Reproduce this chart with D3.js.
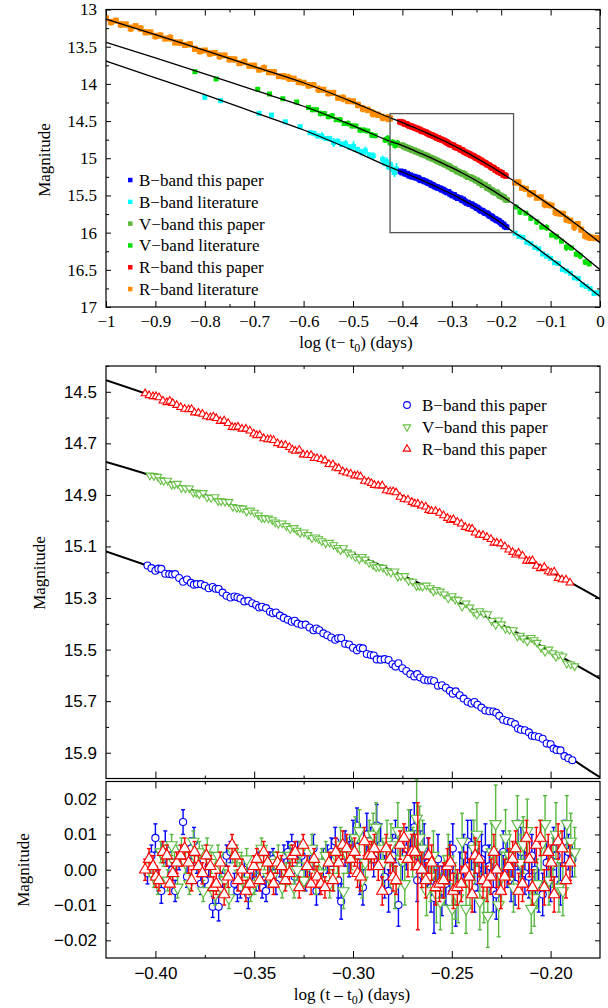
<!DOCTYPE html>
<html><head><meta charset="utf-8">
<script src="https://cdn.jsdelivr.net/npm/d3@7"></script>
<style>
html,body{margin:0;padding:0;background:#fff;}
svg{display:block;}
</style></head><body>
<svg id="chart" width="608" height="1008"></svg>
<script>
// ---------------- data ----------------
// fitted light curves (log(t-t0) vs magnitude)
const fitX = [-1,-0.9,-0.8,-0.7,-0.6,-0.5,-0.425,-0.4,-0.375,-0.35,-0.325,-0.3,-0.275,-0.25,-0.225,-0.2,-0.175,-0.15,-0.1,-0.05,0];
const fitR = [13.128,13.338,13.551,13.767,13.985,14.245,14.455,14.520,14.590,14.662,14.738,14.818,14.905,14.998,15.095,15.197,15.303,15.412,15.637,15.878,16.135];
const fitV = [13.441,13.652,13.866,14.085,14.301,14.560,14.772,14.830,14.900,14.972,15.048,15.127,15.212,15.303,15.402,15.506,15.613,15.728,15.973,16.228,16.498];
const fitB = [13.692,13.918,14.146,14.382,14.620,14.897,15.119,15.185,15.255,15.327,15.403,15.483,15.570,15.663,15.762,15.870,15.995,16.100,16.345,16.597,16.860];

// this paper, first set of epochs (log days) per band
const epochsB = [-0.404,-0.400,-0.397,-0.393,-0.390,-0.386,-0.382,-0.379,-0.375,-0.371,
-0.368,-0.364,-0.360,-0.357,-0.353,-0.349,-0.346,-0.342,-0.339,-0.335,
-0.331,-0.328,-0.324,-0.320,-0.317,-0.313,-0.309,-0.306,-0.302,-0.298,
-0.295,-0.291,-0.288,-0.284,-0.280,-0.277,-0.273,-0.269,-0.266,-0.262,
-0.259,-0.255,-0.251,-0.248,-0.244,-0.240,-0.237,-0.233,-0.229,-0.226,
-0.222,-0.218,-0.215,-0.211,-0.208,-0.204,-0.200,-0.197,-0.193,-0.189];
const epochsV = [-0.4028,-0.3988,-0.3958,-0.3918,-0.3888,-0.3848,-0.3808,-0.3778,-0.3738,-0.3698,
-0.3668,-0.3628,-0.3588,-0.3558,-0.3518,-0.3478,-0.3448,-0.3408,-0.3378,-0.3338,
-0.3298,-0.3268,-0.3228,-0.3188,-0.3158,-0.3118,-0.3078,-0.3048,-0.3008,-0.2968,
-0.2938,-0.2898,-0.2868,-0.2828,-0.2788,-0.2758,-0.2718,-0.2678,-0.2648,-0.2608,
-0.2578,-0.2538,-0.2498,-0.2468,-0.2428,-0.2388,-0.2358,-0.2318,-0.2278,-0.2248,
-0.2208,-0.2168,-0.2138,-0.2098,-0.2068,-0.2028,-0.1988,-0.1958,-0.1918,-0.1878];
const epochsR = [-0.4052,-0.4012,-0.3982,-0.3942,-0.3912,-0.3872,-0.3832,-0.3802,-0.3762,-0.3722,
-0.3692,-0.3652,-0.3612,-0.3582,-0.3542,-0.3502,-0.3472,-0.3432,-0.3402,-0.3362,
-0.3322,-0.3292,-0.3252,-0.3212,-0.3182,-0.3142,-0.3102,-0.3072,-0.3032,-0.2992,
-0.2962,-0.2922,-0.2892,-0.2852,-0.2812,-0.2782,-0.2742,-0.2702,-0.2672,-0.2632,
-0.2602,-0.2562,-0.2522,-0.2492,-0.2452,-0.2412,-0.2382,-0.2342,-0.2302,-0.2272,
-0.2232,-0.2192,-0.2162,-0.2122,-0.2092,-0.2052,-0.2012,-0.1982,-0.1942,-0.1902];
const magB = [15.174,15.194,15.187,15.207,15.207,15.237,15.241,15.246,15.252,15.257,
15.265,15.291,15.294,15.302,15.311,15.327,15.334,15.353,15.356,15.377,
15.392,15.399,15.403,15.425,15.425,15.444,15.462,15.455,15.480,15.503,
15.495,15.521,15.538,15.537,15.557,15.553,15.583,15.604,15.608,15.620,
15.622,15.638,15.660,15.662,15.690,15.709,15.714,15.736,15.740,15.757,
15.777,15.789,15.811,15.821,15.836,15.846,15.867,15.889,15.913,15.929];
const magV = [14.824,14.829,14.845,14.860,14.856,14.874,14.891,14.897,14.909,14.908,
14.924,14.927,14.950,14.952,14.960,14.979,14.990,14.997,15.012,15.020,
15.028,15.047,15.055,15.064,15.079,15.085,15.105,15.106,15.130,15.149,
15.150,15.172,15.179,15.195,15.196,15.214,15.233,15.253,15.255,15.261,
15.268,15.285,15.292,15.307,15.320,15.354,15.350,15.362,15.404,15.401,
15.423,15.449,15.456,15.454,15.473,15.508,15.513,15.519,15.554,15.564];
const magR = [14.507,14.518,14.522,14.541,14.544,14.560,14.569,14.581,14.586,14.600,
14.603,14.612,14.637,14.636,14.644,14.663,14.668,14.685,14.688,14.706,
14.715,14.730,14.744,14.746,14.758,14.767,14.782,14.797,14.814,14.826,
14.829,14.849,14.862,14.864,14.887,14.891,14.917,14.928,14.935,14.946,
14.963,14.970,14.990,14.995,15.012,15.030,15.047,15.056,15.072,15.086,
15.100,15.122,15.125,15.156,15.154,15.185,15.197,15.198,15.228,15.241];
const resB = [-0.001,0.009,-0.006,0.002,-0.006,0.0135,0.006,0.002,-0.003,-0.0105,
-0.0105,0.004,-0.004,-0.005,-0.007,-0.003,-0.005,0.002,-0.004,0.004,
0.007,0.005,-0.003,0.006,-0.004,0.003,0.008,-0.009,0.003,0.0125,
-0.005,0.007,0.0125,-0.002,0.004,-0.010,0.006,0.012,0.005,0.002,
-0.008,-0.006,0.001,-0.009,0.004,0.007,0.000,0.006,-0.006,-0.001,
0.002,-0.004,0.005,-0.002,0.000,-0.007,-0.003,0.004,0.008,0.003];
const errB = [0.003,0.004,0.0035,0.003,0.003,0.0035,0.003,0.003,0.003,0.003,
0.004,0.003,0.003,0.003,0.004,0.003,0.003,0.003,0.003,0.003,
0.003,0.003,0.003,0.004,0.003,0.004,0.004,0.005,0.005,0.005,
0.005,0.005,0.006,0.006,0.006,0.006,0.006,0.007,0.006,0.007,
0.010,0.007,0.007,0.007,0.006,0.007,0.006,0.007,0.006,0.006,
0.007,0.006,0.007,0.006,0.006,0.006,0.006,0.006,0.006,0.005];
const resV = [0.001,-0.004,0.004,0.007,-0.005,0.002,0.008,0.005,0.006,-0.007,
0.001,-0.008,0.004,-0.003,-0.006,0.001,0.003,-0.002,0.004,-0.001,
-0.005,0.005,0.001,-0.003,0.002,-0.004,0.003,-0.006,0.005,0.011,
0.002,0.010,0.006,0.008,-0.005,0.003,0.010,0.0145,0.006,-0.002,
-0.007,-0.003,-0.011,-0.008,-0.011,0.006,-0.009,-0.013,0.013,-0.002,
0.004,0.013,0.007,-0.011,-0.004,0.013,0.002,-0.005,0.013,0.005];
const errV = [0.003,0.003,0.003,0.003,0.003,0.003,0.003,0.003,0.003,0.003,
0.003,0.003,0.003,0.003,0.003,0.003,0.003,0.003,0.003,0.003,
0.003,0.003,0.003,0.004,0.004,0.004,0.004,0.005,0.005,0.006,
0.005,0.006,0.006,0.006,0.006,0.006,0.007,0.011,0.008,0.007,
0.008,0.007,0.007,0.007,0.007,0.008,0.008,0.009,0.011,0.007,
0.007,0.008,0.008,0.007,0.007,0.008,0.007,0.007,0.008,0.007];
const resR = [0.000,0.001,-0.003,0.004,-0.001,0.004,0.002,0.005,-0.001,0.001,
-0.004,-0.007,0.007,-0.003,-0.006,0.001,-0.003,0.002,-0.004,0.001,
-0.001,0.005,0.007,-0.004,-0.002,-0.005,-0.003,0.002,0.006,0.005,
-0.002,0.004,0.006,-0.006,0.003,-0.003,0.009,0.005,0.001,-0.003,
0.002,-0.004,0.001,-0.006,-0.004,-0.002,0.004,-0.003,-0.002,0.000,
-0.002,0.003,-0.006,0.009,-0.005,0.009,0.005,-0.007,0.006,0.002];
const errR = [0.003,0.003,0.003,0.003,0.003,0.003,0.003,0.003,0.003,0.003,
0.003,0.003,0.003,0.003,0.003,0.003,0.003,0.003,0.003,0.003,
0.003,0.003,0.003,0.003,0.003,0.003,0.003,0.004,0.004,0.004,
0.004,0.004,0.004,0.004,0.004,0.004,0.004,0.005,0.018,0.005,
0.005,0.005,0.005,0.005,0.005,0.005,0.005,0.005,0.005,0.005,
0.005,0.005,0.005,0.005,0.005,0.005,0.005,0.005,0.005,0.005];

// this paper, second (interleaved) set of epochs per band
const epochsB2 = [-0.402,-0.3985,-0.395,-0.3915,-0.388,-0.384,-0.3805,-0.377,-0.373,-0.3695,
-0.366,-0.362,-0.3585,-0.355,-0.351,-0.3475,-0.344,-0.3405,-0.337,-0.333,
-0.3295,-0.326,-0.322,-0.3185,-0.315,-0.311,-0.3075,-0.304,-0.300,-0.2965,
-0.293,-0.2895,-0.286,-0.282,-0.2785,-0.275,-0.271,-0.2675,-0.264,-0.2605,
-0.257,-0.253,-0.2495,-0.246,-0.242,-0.2385,-0.235,-0.231,-0.2275,-0.224,
-0.220,-0.2165,-0.213,-0.2095,-0.206,-0.202,-0.1985,-0.195,-0.191];
const epochsV2 = [-0.4008,-0.3973,-0.3938,-0.3903,-0.3868,-0.3828,-0.3793,-0.3758,-0.3718,-0.3683,
-0.3648,-0.3608,-0.3573,-0.3538,-0.3498,-0.3463,-0.3428,-0.3393,-0.3358,-0.3318,
-0.3283,-0.3248,-0.3208,-0.3173,-0.3138,-0.3098,-0.3063,-0.3028,-0.2988,-0.2953,
-0.2918,-0.2883,-0.2848,-0.2808,-0.2773,-0.2738,-0.2698,-0.2663,-0.2628,-0.2593,
-0.2558,-0.2518,-0.2483,-0.2448,-0.2408,-0.2373,-0.2338,-0.2298,-0.2263,-0.2228,
-0.2188,-0.2153,-0.2118,-0.2083,-0.2048,-0.2008,-0.1973,-0.1938,-0.1898];
const epochsR2 = [-0.4032,-0.3997,-0.3962,-0.3927,-0.3892,-0.3852,-0.3817,-0.3782,-0.3742,-0.3707,
-0.3672,-0.3632,-0.3597,-0.3562,-0.3522,-0.3487,-0.3452,-0.3417,-0.3382,-0.3342,
-0.3307,-0.3272,-0.3232,-0.3197,-0.3162,-0.3122,-0.3087,-0.3052,-0.3012,-0.2977,
-0.2942,-0.2907,-0.2872,-0.2832,-0.2797,-0.2762,-0.2722,-0.2687,-0.2652,-0.2617,
-0.2582,-0.2542,-0.2507,-0.2472,-0.2432,-0.2397,-0.2362,-0.2322,-0.2287,-0.2252,
-0.2212,-0.2177,-0.2142,-0.2107,-0.2072,-0.2032,-0.1997,-0.1962,-0.1922];
const magB2 = [15.184,15.186,15.206,15.209,15.222,15.228,15.248,15.246,15.262,15.264,
15.279,15.298,15.297,15.313,15.320,15.337,15.339,15.359,15.368,15.384,
15.388,15.404,15.414,15.418,15.437,15.453,15.456,15.477,15.493,15.493,
15.517,15.523,15.539,15.540,15.566,15.572,15.595,15.595,15.617,15.619,
15.640,15.648,15.671,15.677,15.702,15.703,15.725,15.739,15.745,15.772,
15.781,15.806,15.813,15.834,15.839,15.864,15.884,15.891,15.921];
const magV2 = [14.826,14.842,14.844,14.859,14.873,14.874,14.891,14.892,14.911,14.923,
14.926,14.946,14.950,14.964,14.968,14.989,14.991,15.006,15.010,15.031,
15.038,15.045,15.067,15.071,15.087,15.094,15.114,15.123,15.141,15.140,
15.163,15.180,15.182,15.201,15.217,15.214,15.236,15.253,15.251,15.274,
15.274,15.301,15.305,15.333,15.336,15.364,15.360,15.388,15.386,15.419,
15.424,15.445,15.468,15.463,15.493,15.499,15.527,15.526,15.557];
const magR2 = [14.514,14.518,14.535,14.536,14.552,14.567,14.568,14.582,14.596,14.597,
14.614,14.622,14.638,14.644,14.651,14.669,14.681,14.685,14.700,14.707,
14.725,14.726,14.745,14.758,14.762,14.781,14.795,14.809,14.818,14.825,
14.846,14.855,14.864,14.883,14.887,14.908,14.919,14.934,14.942,14.959,
14.963,14.980,14.998,15.005,15.025,15.032,15.055,15.064,15.086,15.089,
15.113,15.132,15.136,15.157,15.176,15.180,15.202,15.223,15.229];
const resB2 = [0.004,-0.003,0.007,0.000,0.003,-0.002,0.008,-0.004,0.001,-0.007,
-0.002,0.005,-0.006,0.000,-0.004,0.002,-0.006,0.003,0.001,0.005,
-0.002,0.004,0.001,-0.006,0.002,0.005,-0.003,0.006,0.009,-0.002,
0.010,0.003,0.007,-0.006,0.008,0.002,0.010,-0.003,0.006,-0.005,
0.003,-0.004,0.006,-0.002,0.008,-0.005,0.003,0.001,-0.007,0.005,
-0.003,0.007,-0.001,0.004,-0.006,0.002,0.006,-0.004,0.005];
const errB2 = [0.003,0.003,0.004,0.003,0.003,0.003,0.004,0.003,0.003,0.004,
0.003,0.003,0.003,0.003,0.003,0.003,0.003,0.003,0.003,0.003,
0.003,0.004,0.003,0.004,0.004,0.004,0.005,0.005,0.005,0.005,
0.006,0.005,0.006,0.006,0.006,0.006,0.007,0.006,0.007,0.007,
0.007,0.006,0.007,0.007,0.006,0.007,0.007,0.006,0.007,0.006,
0.006,0.007,0.006,0.006,0.006,0.006,0.006,0.006,0.005];
const resV2 = [-0.002,0.005,-0.003,0.002,0.006,-0.004,0.003,-0.006,0.002,0.004,
-0.003,0.005,-0.001,0.003,-0.004,0.006,-0.002,0.002,-0.005,0.004,
0.000,-0.003,0.006,-0.001,0.004,-0.002,0.007,0.004,0.009,-0.003,
0.008,0.012,0.002,0.007,0.011,-0.004,0.005,0.009,-0.006,0.004,
-0.009,0.003,-0.006,0.008,-0.004,0.010,-0.007,0.005,-0.010,0.009,
-0.005,0.002,0.011,-0.008,0.007,-0.003,0.010,-0.006,0.008];
const errV2 = [0.003,0.003,0.003,0.003,0.003,0.003,0.003,0.003,0.003,0.003,
0.003,0.003,0.003,0.003,0.003,0.003,0.003,0.003,0.003,0.003,
0.003,0.003,0.004,0.004,0.004,0.004,0.005,0.005,0.006,0.005,
0.006,0.007,0.006,0.006,0.008,0.006,0.007,0.009,0.007,0.007,
0.008,0.007,0.008,0.008,0.007,0.009,0.008,0.008,0.009,0.008,
0.007,0.008,0.009,0.008,0.007,0.007,0.009,0.007,0.008];
const resR2 = [0.003,-0.002,0.005,-0.004,0.002,0.006,-0.003,0.001,0.004,-0.005,
0.002,-0.002,0.004,0.000,-0.004,0.003,0.005,-0.002,0.002,-0.003,
0.004,-0.005,0.001,0.003,-0.004,0.002,0.005,0.007,0.003,-0.001,
0.008,0.004,0.001,0.006,-0.002,0.007,0.003,0.005,0.000,0.004,
-0.005,-0.003,0.002,-0.005,0.000,-0.007,0.003,-0.004,0.005,-0.006,
0.001,0.006,-0.004,0.003,0.007,-0.005,0.002,0.008,-0.003];
const errR2 = [0.003,0.003,0.003,0.003,0.003,0.003,0.003,0.003,0.003,0.003,
0.003,0.003,0.003,0.003,0.003,0.003,0.003,0.003,0.003,0.003,
0.003,0.003,0.003,0.003,0.003,0.003,0.004,0.004,0.004,0.004,
0.004,0.004,0.004,0.004,0.004,0.004,0.005,0.005,0.005,0.005,
0.005,0.005,0.005,0.005,0.005,0.005,0.005,0.005,0.005,0.005,
0.005,0.005,0.005,0.005,0.005,0.005,0.005,0.005,0.005];

// literature photometry
const litRX = [-1.00,-0.99,-0.98,-0.97,-0.96,-0.95,-0.94,-0.93,-0.92,-0.91,
-0.90,-0.89,-0.88,-0.87,-0.86,-0.85,-0.84,-0.83,-0.82,-0.81,
-0.80,-0.79,-0.78,-0.77,-0.76,-0.75,-0.74,-0.73,-0.72,-0.71,
-0.70,-0.69,-0.68,-0.67,-0.66,-0.65,-0.64,-0.63,-0.62,-0.61,
-0.60,-0.59,-0.58,-0.57,-0.56,-0.55,-0.54,-0.53,-0.52,-0.51,
-0.50,-0.49,-0.48,-0.47,-0.46,-0.45,-0.44,-0.43,-0.425,
-0.172,-0.165,-0.158,-0.150,-0.142,-0.135,-0.128,-0.120,-0.112,-0.105,
-0.098,-0.090,-0.082,-0.075,-0.068,-0.060,-0.052,-0.045,-0.038,-0.030,
-0.022,-0.015,-0.008,-0.003];
const litRMag = [13.118,13.169,13.150,13.201,13.202,13.253,13.224,13.255,13.306,13.307,
13.358,13.349,13.391,13.382,13.443,13.445,13.476,13.467,13.529,13.560,
13.551,13.593,13.584,13.626,13.618,13.669,13.671,13.722,13.704,13.756,
13.757,13.809,13.791,13.843,13.844,13.896,13.898,13.920,13.932,13.973,
13.985,14.021,14.017,14.073,14.079,14.125,14.121,14.187,14.193,14.229,
14.235,14.283,14.331,14.349,14.397,14.415,14.453,14.461,14.465,
15.326,15.327,15.397,15.412,15.478,15.470,15.531,15.527,15.613,15.625,
15.637,15.725,15.744,15.748,15.821,15.840,15.918,15.884,15.960,16.041,
16.062,16.068,16.074,16.080];
const litRErr = [0.04,0.045,0.035,0.045,0.04,0.05,0.035,0.045,0.04,0.035,
0.045,0.04,0.035,0.05,0.04,0.045,0.035,0.045,0.04,0.045,
0.035,0.045,0.04,0.05,0.035,0.045,0.04,0.035,0.045,0.04,
0.045,0.035,0.05,0.04,0.045,0.035,0.045,0.055,0.04,0.045,
0.035,0.045,0.04,0.05,0.035,0.045,0.04,0.035,0.055,0.045,
0.04,0.045,0.05,0.045,0.055,0.045,0.05,0.055,0.045,
0.03,0.04,0.035,0.03,0.05,0.04,0.035,0.04,0.06,0.04,
0.03,0.05,0.04,0.04,0.05,0.04,0.06,0.04,0.04,0.05,
0.05,0.04,0.04,0.04];
const litVX = [-0.820,-0.777,-0.693,-0.669,-0.642,-0.614,
-0.590,-0.582,-0.574,-0.566,-0.558,-0.550,-0.542,-0.534,-0.526,-0.518,-0.510,-0.502,-0.494,-0.486,-0.478,-0.470,-0.462,-0.455,
-0.435,-0.430,-0.425,-0.420,-0.415,-0.410,
-0.170,-0.162,-0.150,-0.140,-0.128,-0.118,-0.108,-0.098,-0.088,-0.078,-0.068,-0.058,-0.048,-0.040,-0.030,-0.022];
const litVMag = [13.836,13.934,14.073,14.136,14.200,14.244,
14.317,14.348,14.348,14.399,14.400,14.441,14.431,14.482,14.483,14.533,14.534,14.565,14.567,14.620,14.622,14.635,14.688,14.697,
14.754,14.738,14.792,14.785,14.828,14.801,
15.656,15.723,15.738,15.807,15.856,15.925,15.934,16.033,16.054,16.115,16.196,16.207,16.289,16.312,16.396,16.419];
const litVErr = [0.015,0.015,0.015,0.015,0.015,0.015,
0.03,0.035,0.03,0.04,0.03,0.035,0.04,0.03,0.035,0.03,0.04,0.035,0.03,0.04,0.035,0.03,0.04,0.035,
0.04,0.05,0.04,0.045,0.04,0.05,
0.03,0.04,0.03,0.035,0.04,0.03,0.045,0.035,0.04,0.03,0.05,0.035,0.04,0.045,0.04,0.035];
const litBX = [-0.800,-0.768,-0.690,-0.665,-0.637,-0.607,
-0.587,-0.579,-0.571,-0.563,-0.555,-0.547,-0.539,-0.531,-0.523,-0.515,-0.507,-0.499,-0.491,-0.483,-0.475,-0.467,-0.459,
-0.440,-0.436,-0.432,-0.428,-0.424,-0.420,-0.416,-0.412,
-0.172,-0.164,-0.156,-0.148,-0.140,-0.132,-0.124,-0.116,-0.108,-0.100,-0.092,-0.084,-0.076,-0.068,-0.060,-0.052,-0.044,-0.036,-0.028,-0.020,-0.012,-0.006];
const litBMag = [14.180,14.226,14.396,14.420,14.510,14.576,
14.656,14.668,14.700,14.702,14.735,14.737,14.789,14.771,14.813,14.805,14.848,14.840,14.884,14.917,14.901,14.955,14.968,
15.015,15.066,15.047,15.118,15.089,15.151,15.192,15.144,
16.008,16.051,16.065,16.130,16.149,16.198,16.218,16.287,16.316,16.345,16.405,16.416,16.496,16.516,16.547,16.607,16.619,16.701,16.723,16.755,16.817,16.808];
const litBErr = [0.015,0.015,0.015,0.015,0.015,0.015,
0.03,0.04,0.035,0.05,0.03,0.04,0.06,0.035,0.04,0.05,0.035,0.07,0.04,0.045,0.06,0.04,0.05,
0.05,0.04,0.06,0.04,0.05,0.07,0.06,0.08,
0.02,0.025,0.03,0.02,0.03,0.025,0.02,0.03,0.025,0.02,0.03,0.025,0.035,0.02,0.03,0.025,0.03,0.035,0.025,0.03,0.035,0.03];

// axis ticks
const topXTicks = [-1,-0.9,-0.8,-0.7,-0.6,-0.5,-0.4,-0.3,-0.2,-0.1,0];
const topXMinor = [-0.75,-0.25];
const topYTicks = [13,13.5,14,14.5,15,15.5,16,16.5,17];
const topYMinor = [13.25,13.75,14.25,14.75,15.25,15.75,16.25,16.75];
const zoomXTicks = [-0.40,-0.35,-0.30,-0.25,-0.20];
const zoomXMinor = [-0.375,-0.325,-0.275,-0.225];
const midYTicks = [14.5,14.7,14.9,15.1,15.3,15.5,15.7,15.9];
const midYMinor = [14.4,14.6,14.8,15.0,15.2,15.4,15.6,15.8];
const resYTicks = [-0.02,-0.01,0,0.01,0.02];
const resYMinor = [-0.015,-0.005,0.005,0.015];

const topLegend = ["B\u2212band this paper","B\u2212band literature","V\u2212band this paper","V\u2212band literature","R\u2212band this paper","R\u2212band literature"];
const midLegend = ["B\u2212band this paper","V\u2212band this paper","R\u2212band this paper"];

// ---------------- drawing ----------------
const C = {B:"#0000ff", Bl:"#00ffff", V:"#5cb83c", Vl:"#00e000", R:"#ff0000", Rl:"#ff8c00", Vm:"#66c044"};
const SERIF = "'Liberation Serif','Times New Roman',serif";
const SANS = "'Liberation Sans',Arial,sans-serif";
const svg = d3.select("#chart");

// merge the two epoch sets of one band, sorted in time
function band(e1, m1, r1, s1, e2, m2, r2, s2) {
  const rows = e1.map((x, i) => ({x, m: m1[i], r: r1[i], e: s1[i]}))
    .concat(e2.map((x, i) => ({x, m: m2[i], r: r2[i], e: s2[i]})));
  return rows.sort((a, b) => a.x - b.x);
}
const bandB = band(epochsB, magB, resB, errB, epochsB2, magB2, resB2, errB2);
const bandV = band(epochsV, magV, resV, errV, epochsV2, magV2, resV2, errV2);
const bandR = band(epochsR, magR, resR, errR, epochsR2, magR2, resR2, errR2);

const L = 106, Rr = 600;
const xTop = d3.scaleLinear([-1, 0], [L, Rr]);
const yTop = d3.scaleLinear([13, 17], [9.5, 307]);
const xZ = d3.scaleLinear([-0.425, -0.175], [L, Rr]);
const yMid = d3.scaleLinear([14.4, 16.0], [366, 778.5]);
const yRes = d3.scaleLinear([-0.025, 0.025], [958, 781.5]);

function drawAxes(g, x, y, o) {
  const [y0, y1] = y.range();
  const top = Math.min(y0, y1), bot = Math.max(y0, y1);
  const addAx = (axis, tx, ty) => {
    const a = g.append("g").attr("transform", `translate(${tx},${ty})`).call(axis);
    a.select(".domain").remove();
    a.selectAll("line").attr("stroke", "#000").attr("stroke-width", 1);
    a.selectAll("text").attr("fill", "#000").attr("font-family", o.font).attr("font-size", o.fs);
    return a;
  };
  addAx(d3.axisBottom(x).tickValues(o.xMaj).tickSize(-o.xLen).tickPadding(o.xPad).tickFormat(o.xFmt || (() => "")), 0, bot);
  addAx(d3.axisBottom(x).tickValues(o.xMin).tickSize(-o.minLen).tickFormat(() => ""), 0, bot);
  addAx(d3.axisTop(x).tickValues(o.xMaj).tickSize(-o.xLen).tickFormat(() => ""), 0, top);
  addAx(d3.axisTop(x).tickValues(o.xMin).tickSize(-o.minLen).tickFormat(() => ""), 0, top);
  addAx(d3.axisLeft(y).tickValues(o.yMaj).tickSize(-o.yLen).tickPadding(o.yPad).tickFormat(o.yFmt), L, 0);
  addAx(d3.axisLeft(y).tickValues(o.yMin).tickSize(-o.minLen).tickFormat(() => ""), L, 0);
  addAx(d3.axisRight(y).tickValues(o.yMaj).tickSize(-o.yLen).tickFormat(() => ""), Rr, 0);
  addAx(d3.axisRight(y).tickValues(o.yMin).tickSize(-o.minLen).tickFormat(() => ""), Rr, 0);
  g.append("rect").attr("x", L).attr("y", top).attr("width", Rr - L).attr("height", bot - top)
    .attr("fill", "none").attr("stroke", "#000").attr("stroke-width", 1.2);
}

const minus = d => (d < 0 ? "\u2212" : "") + Math.abs(d);

// ===== top panel =====
const gT = svg.append("g");
svg.append("clipPath").attr("id", "clipT").append("rect")
  .attr("x", L).attr("y", 9.5).attr("width", Rr - L).attr("height", 307 - 9.5);
const gTD = gT.append("g").attr("clip-path", "url(#clipT)");

function squares(g, rows, color, x, y, s, ew) {
  const grp = g.append("g");
  rows.forEach(d => {
    const px = x(d.x);
    grp.append("line").attr("x1", px).attr("x2", px)
      .attr("y1", y(d.m - d.e)).attr("y2", y(d.m + d.e))
      .attr("stroke", color).attr("stroke-width", ew);
  });
  rows.forEach(d => {
    grp.append("rect").attr("x", x(d.x) - s / 2).attr("y", y(d.m) - s / 2).attr("width", s).attr("height", s).attr("fill", color);
  });
}
const lit = (xs, ms, es) => xs.map((x, i) => ({x, m: ms[i], e: es[i]}));
squares(gTD, lit(litRX, litRMag, litRErr), C.Rl, xTop, yTop, 6, 3);
squares(gTD, lit(litVX, litVMag, litVErr), C.Vl, xTop, yTop, 5, 2);
squares(gTD, lit(litBX, litBMag, litBErr), C.Bl, xTop, yTop, 5, 1.8);
squares(gTD, bandR, C.R, xTop, yTop, 5.5, 1.5);
squares(gTD, bandV, C.V, xTop, yTop, 5.5, 1.5);
squares(gTD, bandB, C.B, xTop, yTop, 5.5, 1.5);

const lineT = d3.line().x(d => xTop(d[0])).y(d => yTop(d[1])).curve(d3.curveMonotoneX);
[fitR, fitV, fitB].forEach(f => {
  gTD.append("path").attr("d", lineT(fitX.map((v, i) => [v, f[i]])))
    .attr("fill", "none").attr("stroke", "#000").attr("stroke-width", 1.3);
});
// zoom box
gT.append("rect").attr("x", xTop(-0.425)).attr("y", yTop(14.4))
  .attr("width", xTop(-0.175) - xTop(-0.425)).attr("height", yTop(16.0) - yTop(14.4))
  .attr("fill", "none").attr("stroke", "#555").attr("stroke-width", 1.3);

drawAxes(gT, xTop, yTop, {xMaj: topXTicks, xMin: topXMinor, yMaj: topYTicks, yMin: topYMinor,
  xLen: 6, yLen: 5, minLen: 3, xPad: 8, yPad: 9, font: SERIF, fs: 17, xFmt: minus, yFmt: d => String(d)});

// top legend
const tlColors = [C.B, C.Bl, C.V, C.Vl, C.R, C.Rl];
topLegend.forEach((t, i) => {
  const cy = 180 + i * 21.8;
  gT.append("rect").attr("x", 128).attr("y", cy - 2.2).attr("width", 4.5).attr("height", 4.5).attr("fill", tlColors[i]);
  gT.append("text").attr("x", 139).attr("y", cy + 6).attr("font-family", SERIF).attr("font-size", 17).text(t);
});
// axis titles
gT.append("text").attr("transform", "translate(50,160) rotate(-90)").attr("text-anchor", "middle")
  .attr("font-family", SERIF).attr("font-size", 17).text("Magnitude");
const tt = gT.append("text").attr("x", 356).attr("y", 348).attr("text-anchor", "middle")
  .attr("font-family", SERIF).attr("font-size", 17);
tt.append("tspan").text("log (t\u2212 t");
tt.append("tspan").attr("font-size", 12).attr("dy", 4).text("0");
tt.append("tspan").attr("dy", -4).text(") (days)");

// ===== middle panel =====
const gM = svg.append("g");
svg.append("clipPath").attr("id", "clipM").append("rect")
  .attr("x", L).attr("y", 366).attr("width", Rr - L).attr("height", 778.5 - 366);
const gMD = gM.append("g").attr("clip-path", "url(#clipM)");
const lineM = d3.line().x(d => xZ(d[0])).y(d => yMid(d[1])).curve(d3.curveMonotoneX);
[fitR, fitV, fitB].forEach(f => {
  gMD.append("path").attr("d", lineM(fitX.map((v, i) => [v, f[i]]).filter(d => d[0] >= -0.45 && d[0] <= -0.15)))
    .attr("fill", "none").attr("stroke", "#000").attr("stroke-width", 2);
});
const symCirc = d3.symbol().type(d3.symbolCircle);
const symTri = d3.symbol().type(d3.symbolTriangle);

function markers(g, rows, key, color, kind, x, y, size, capW, sw) {
  const grp = g.append("g");
  rows.forEach(d => {
    const px = x(d.x), v = d[key];
    const a = y(v - d.e), b = y(v + d.e);
    grp.append("line").attr("x1", px).attr("x2", px).attr("y1", a).attr("y2", b)
      .attr("stroke", color).attr("stroke-width", sw);
    if (capW) {
      grp.append("line").attr("x1", px - capW).attr("x2", px + capW).attr("y1", a).attr("y2", a).attr("stroke", color).attr("stroke-width", sw);
      grp.append("line").attr("x1", px - capW).attr("x2", px + capW).attr("y1", b).attr("y2", b).attr("stroke", color).attr("stroke-width", sw);
    }
  });
  rows.forEach(d => {
    const px = x(d.x), py = y(d[key]);
    let p;
    if (kind === "circle") p = grp.append("path").attr("d", symCirc.size(size)()).attr("transform", `translate(${px},${py})`);
    else if (kind === "down") p = grp.append("path").attr("d", symTri.size(size)()).attr("transform", `translate(${px},${py}) rotate(180)`);
    else p = grp.append("path").attr("d", symTri.size(size)()).attr("transform", `translate(${px},${py})`);
    p.attr("fill", "#fff").attr("stroke", color).attr("stroke-width", 1.1);
  });
}
markers(gMD, bandB, "m", C.B, "circle", xZ, yMid, 38, 0, 1);
markers(gMD, bandV, "m", C.Vm, "down", xZ, yMid, 26, 0, 1);
markers(gMD, bandR, "m", C.R, "up", xZ, yMid, 26, 0, 1);

drawAxes(gM, xZ, yMid, {xMaj: zoomXTicks, xMin: zoomXMinor, yMaj: midYTicks, yMin: midYMinor,
  xLen: 7, yLen: 5, minLen: 3, xPad: 8, yPad: 9, font: SANS, fs: 17, xFmt: null, yFmt: d3.format(".1f")});

// middle legend
const mlColors = [C.B, C.Vm, C.R];
const mlKinds = ["circle", "down", "up"];
midLegend.forEach((t, i) => {
  const cy = 405 + i * 22;
  const p = gM.append("path").attr("fill", "#fff").attr("stroke", mlColors[i]).attr("stroke-width", 1.1);
  if (mlKinds[i] === "circle") p.attr("d", symCirc.size(36)()).attr("transform", `translate(407,${cy})`);
  else if (mlKinds[i] === "down") p.attr("d", symTri.size(24)()).attr("transform", `translate(407,${cy}) rotate(180)`);
  else p.attr("d", symTri.size(24)()).attr("transform", `translate(407,${cy})`);
  gM.append("text").attr("x", 422).attr("y", cy + 6).attr("font-family", SERIF).attr("font-size", 17).text(t);
});
gM.append("text").attr("transform", "translate(45,573) rotate(-90)").attr("text-anchor", "middle")
  .attr("font-family", SERIF).attr("font-size", 17).text("Magnitude");

// ===== residual panel =====
const gR = svg.append("g");
markers(gR, bandB, "r", C.B, "circle", xZ, yRes, 40, 2, 1.4);
markers(gR, bandV, "r", "#58b840", "down", xZ, yRes, 55, 2, 1.4);
markers(gR, bandR, "r", C.R, "up", xZ, yRes, 55, 2, 1.4);
drawAxes(gR, xZ, yRes, {xMaj: zoomXTicks, xMin: zoomXMinor, yMaj: resYTicks, yMin: resYMinor,
  xLen: 7, yLen: 5, minLen: 3, xPad: 9, yPad: 9, font: SANS, fs: 17, xFmt: d3.format(".2f"), yFmt: d3.format(".2f")});
gR.append("text").attr("transform", "translate(29,870) rotate(-90)").attr("text-anchor", "middle")
  .attr("font-family", SERIF).attr("font-size", 17).text("Magnitude");
const bt = gR.append("text").attr("x", 352).attr("y", 1000).attr("text-anchor", "middle")
  .attr("font-family", SERIF).attr("font-size", 17);
bt.append("tspan").text("log (t \u2013 t");
bt.append("tspan").attr("font-size", 12).attr("dy", 4).text("0");
bt.append("tspan").attr("dy", -4).text(") (days)");
</script></body></html>
